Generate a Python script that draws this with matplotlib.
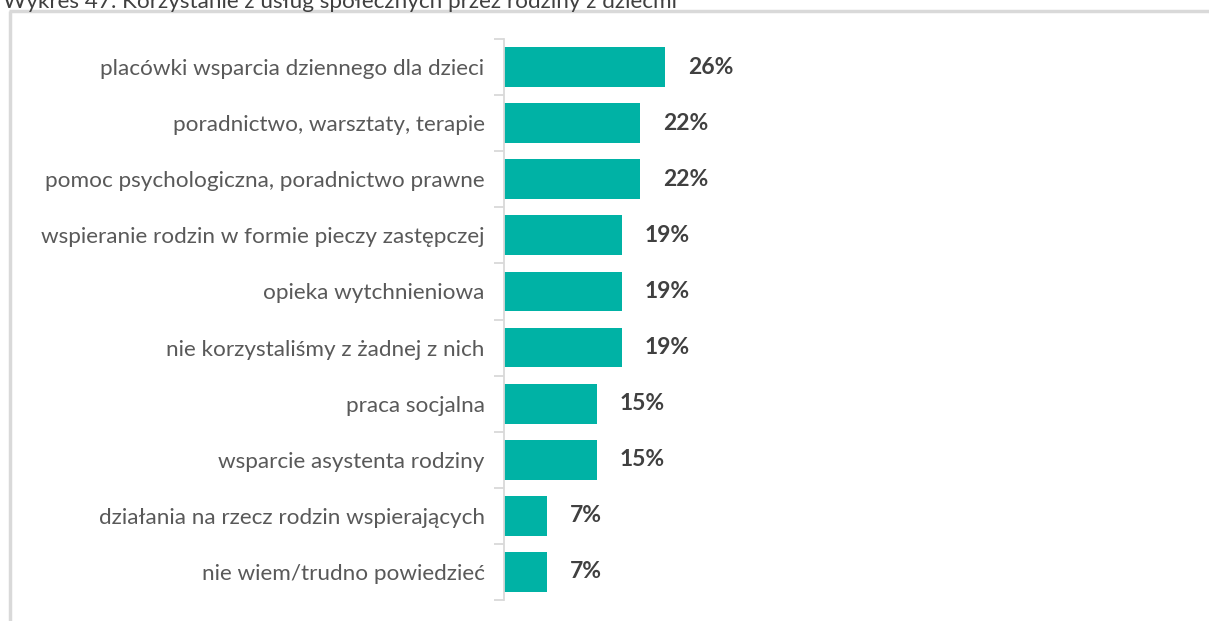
import matplotlib.pyplot as plt
from matplotlib.lines import Line2D
from matplotlib.ticker import FixedLocator

plt.rcParams['font.family'] = ['Lato', 'DejaVu Sans']

title = "Wykres 47. Korzystanie z usług społecznych przez rodziny z dziećmi"
categories = [
    "placówki wsparcia dziennego dla dzieci",
    "poradnictwo, warsztaty, terapie",
    "pomoc psychologiczna, poradnictwo prawne",
    "wspieranie rodzin w formie pieczy zastępczej",
    "opieka wytchnieniowa",
    "nie korzystaliśmy z żadnej z nich",
    "praca socjalna",
    "wsparcie asystenta rodziny",
    "działania na rzecz rodzin wspierających",
    "nie wiem/trudno powiedzieć",
]
values = [26, 22, 22, 19, 19, 19, 15, 15, 7, 7]

W, H = 1209, 621
fig = plt.figure(figsize=(W / 100, H / 100), dpi=100)
ax = fig.add_axes([504 / W, 21 / H, 620 / W, 561 / H])

pos = list(range(len(categories)))
ax.barh(pos, values, height=0.71, color="#00b2a5")
ax.set_ylim(len(categories) - 0.5, -0.5)
ax.set_xlim(0, 100)

for p, v in zip(pos, values):
    ax.text(v + 3.7, p, f"{v}%", va="center", ha="left", fontsize=16.5,
            fontweight="bold", color="#404040")

ax.set_yticks(pos)
ax.set_yticklabels(categories, fontsize=16.2, color="#595959")
ax.tick_params(axis="y", which="major", length=0, pad=14)
ax.yaxis.set_minor_locator(FixedLocator([i - 0.5 for i in range(len(categories) + 1)]))
ax.tick_params(axis="y", which="minor", length=7, width=1.3, color="#d9d9d9")
ax.set_xticks([])
for s in ["top", "right", "bottom"]:
    ax.spines[s].set_visible(False)
ax.spines["left"].set_color("#d9d9d9")
ax.spines["left"].set_linewidth(1.3)

# frame around the chart area
fig.add_artist(Line2D([9.5 / W, 9.5 / W], [0, 1 - 11 / H], transform=fig.transFigure,
                      color="#d9d9d9", linewidth=2.5, solid_capstyle="butt"))
fig.add_artist(Line2D([8.5 / W, 1], [1 - 11 / H, 1 - 11 / H], transform=fig.transFigure,
                      color="#d9d9d9", linewidth=2.5, solid_capstyle="butt"))

fig.text(3 / W, 1 - 8 / H, title, fontsize=16.2, color="#404040", va="baseline", ha="left")

fig.savefig("out.png", dpi=100)
